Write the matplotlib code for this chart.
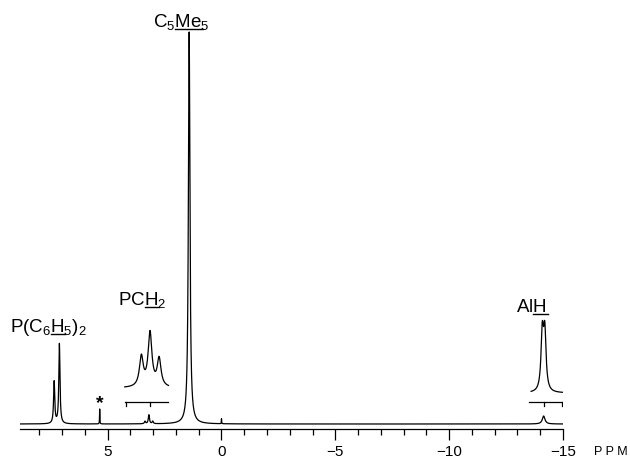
import matplotlib
matplotlib.use("Agg")
import matplotlib.pyplot as plt
import numpy as np

plt.rcParams["font.family"] = ["Liberation Sans", "DejaVu Sans"]
plt.rcParams["mathtext.fontset"] = "custom"
plt.rcParams["mathtext.rm"] = "Liberation Sans"
plt.rcParams["mathtext.it"] = "Liberation Sans:italic"

# main spectrum peaks: chemical shift (ppm), height (baseline units), half width (ppm)
peak_ppm = [7.35, 7.12, 5.35, 3.36, 3.19, 3.02, 1.42, 0.0, -14.15]
peak_height = [42, 80, 15, 2.5, 9, 2.5, 392, 5, 8]
peak_width = [0.03, 0.03, 0.008, 0.03, 0.03, 0.03, 0.04, 0.008, 0.07]

# expansion of the PCH2 multiplet (drawn above the peak)
pch2_ppm = [3.52, 3.14, 2.74]
pch2_height = [30, 54, 28]
pch2_width = [0.10, 0.10, 0.10]
pch2_span = (4.25, 2.33)
pch2_bar_ticks = [4.2, 3.12]

# expansion of the AlH doublet
alh_ppm = [-14.09, -14.20]
alh_height = [57, 57]
alh_width = [0.065, 0.065]
alh_span = (-13.6, -15.05)
alh_bar_ticks = [-14.16, -14.96]

major_ticks = [5, 0, -5, -10, -15]
minor_ticks = list(range(8, -16, -1))


def lorentz(x, centers, heights, widths):
    y = np.zeros_like(x)
    for c, h, w in zip(centers, heights, widths):
        y += h / (1 + ((x - c) / w) ** 2)
    return y


def underlined(ax, x, y, pre, mid, post, fs):
    """Label with `mid` underlined (mathtext has no \\underline)."""
    t = ax.text(x, y, f"$\\mathrm{{{pre}{mid}{post}}}$", fontsize=fs,
                ha="left", va="baseline")
    r = ax.figure.canvas.get_renderer()
    x0 = t.get_window_extent(r).x0
    y0 = ax.transData.transform((x, y))[1]

    def width(s):
        if not s:
            return 0.0
        tmp = ax.text(x, y, f"$\\mathrm{{{s}}}$", fontsize=fs, ha="left", va="baseline")
        w = tmp.get_window_extent(r).width
        tmp.remove()
        return w

    a = x0 + width(pre)
    b = x0 + width(pre + mid)
    inv = ax.transData.inverted()
    (xa, ya), (xb, _) = inv.transform([(a, y0 - 3), (b + 1, y0 - 3)])
    ax.plot([xa, xb], [ya, ya], color="black", lw=1.0, clip_on=False)


fig = plt.figure(figsize=(6.3, 4.6), dpi=100)
ax = fig.add_axes([20 / 630, 30 / 460, 543 / 630, 430 / 460])
ax.set_xlim(8.85, -15.0)
ax.set_ylim(0, 430)

x = np.linspace(8.85, -15.0, 8000)
base = 5
ax.plot(x, base + lorentz(x, peak_ppm, peak_height, peak_width), color="black", lw=0.9)

# PCH2 inset
xi = np.linspace(*pch2_span, 600)
ax.plot(xi, 41 + lorentz(xi, pch2_ppm, pch2_height, pch2_width), color="black", lw=0.9)
ax.plot(pch2_span, [27, 27], color="black", lw=0.9)
for t in pch2_bar_ticks:
    ax.plot([t, t], [27, 23], color="black", lw=0.9)

# AlH inset
xa = np.linspace(*alh_span, 600)
ax.plot(xa, 36 + lorentz(xa, alh_ppm, alh_height, alh_width), color="black", lw=0.9)
ax.plot((-13.5, -15.13), [27, 27], color="black", lw=0.9)
for t in alh_bar_ticks:
    ax.plot([t, t], [27, 23], color="black", lw=0.9)

# labels
fs = 13.5
underlined(ax, 3.01, 403, "C_5", "Me", "_5", fs)
underlined(ax, 9.29, 98, "P(C_6", "H", "_5)_2", fs)
underlined(ax, 4.55, 125, "PC", "H", "_2", fs)
underlined(ax, -12.93, 118, "Al", "H", "", fs)
ax.text(5.35, 26, "*", fontsize=14, fontweight="bold", ha="center", va="center")
ax.text(611, 8, "P P M", fontsize=9, ha="center", va="center", transform=None)

for s in ["top", "left", "right"]:
    ax.spines[s].set_visible(False)
ax.spines["bottom"].set_bounds(8.85, -15.0)
ax.spines["bottom"].set_linewidth(0.9)
ax.set_yticks([])
ax.set_xticks(major_ticks)
ax.set_xticklabels(["5", "0", "\u22125", "\u221210", "\u221215"], fontsize=11)
ax.set_xticks(minor_ticks, minor=True)
ax.tick_params(axis="x", which="major", length=8, width=0.9, pad=3)
ax.tick_params(axis="x", which="minor", length=4, width=0.9)

fig.savefig("out.png", dpi=100)
